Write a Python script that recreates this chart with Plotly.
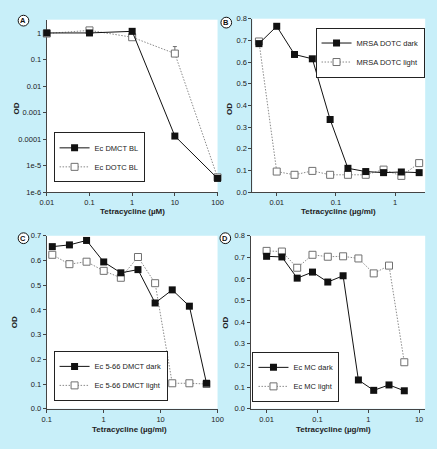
import plotly.graph_objects as go

# ---------------- data ----------------
a_x = [0.01, 0.1, 1, 10, 100]
a_dark = [1.0, 1.0, 1.15, 1.3e-4, 3.3e-6]
a_light = [0.95, 1.25, 0.69, 0.167, 3.6e-6]
a_light_err = [0, 0, 0, 0.14, 0]

b_x = [0.005, 0.01, 0.02, 0.04, 0.08, 0.16, 0.32, 0.64, 1.28, 2.56]
b_dark = [0.685, 0.765, 0.635, 0.615, 0.335, 0.11, 0.095, 0.09, 0.093, 0.09]
b_light = [0.695, 0.095, 0.08, 0.098, 0.08, 0.08, 0.08, 0.104, 0.075, 0.134]

c_x = [0.125, 0.25, 0.5, 1, 2, 4, 8, 16, 32, 64]
c_dark = [0.656, 0.663, 0.681, 0.594, 0.55, 0.563, 0.428, 0.481, 0.415, 0.103]
c_light = [0.623, 0.585, 0.595, 0.558, 0.53, 0.614, 0.508, 0.103, 0.103, 0.1]

d_x = [0.01, 0.02, 0.04, 0.08, 0.16, 0.32, 0.64, 1.28, 2.56, 5.12]
d_dark = [0.705, 0.702, 0.604, 0.632, 0.586, 0.615, 0.133, 0.085, 0.11, 0.083]
d_light = [0.73, 0.727, 0.652, 0.712, 0.703, 0.705, 0.695, 0.626, 0.662, 0.215]

a_names = ["Ec DMCT BL", "Ec DOTC BL"]
b_names = ["MRSA DOTC dark", "MRSA DOTC light"]
c_names = ["Ec 5-66 DMCT dark", "Ec 5-66 DMCT light"]
d_names = ["Ec MC dark", "Ec MC light"]

a_xticks = [0.01, 0.1, 1, 10, 100]
a_xlabels = ["0.01", "0.1", "1", "10", "100"]
a_yticks = [1e-6, 1e-5, 1e-4, 1e-3, 1e-2, 0.1, 1]
a_ylabels = ["1e-6", "1e-5", "0.0001", "0.001", "0.01", "0.1", "1"]
b_xticks = [0.01, 0.1, 1]
b_xlabels = ["0.01", "0.1", "1"]
c_xticks = [0.1, 1, 10, 100]
c_xlabels = ["0.1", "1", "10", "100"]
d_xticks = [0.01, 0.1, 1, 10]
d_xlabels = ["0.01", "0.1", "1", "10"]

# ---------------- style ----------------
W, H = 437, 449
BG = "#c8eff9"
FONT = "Arial, Liberation Sans, sans-serif"
AX = "#444444"
DARK = "#111111"
LIGHT = "#8a8a8a"

def px_x(v):
    return v / W

def px_y(v):
    return 1 - v / H

fig = go.Figure()

panels = [
    ("x", "y", "legend", a_x, a_dark, a_light, a_names, a_light_err),
    ("x2", "y2", "legend2", b_x, b_dark, b_light, b_names, None),
    ("x3", "y3", "legend3", c_x, c_dark, c_light, c_names, None),
    ("x4", "y4", "legend4", d_x, d_dark, d_light, d_names, None),
]

for xa, ya, lg, xs, dk, lt, names, err in panels:
    light = dict(
        x=xs, y=lt, name=names[1], mode="lines+markers", xaxis=xa, yaxis=ya,
        legend=lg, legendrank=2, cliponaxis=False,
        line=dict(color=LIGHT, width=1, dash="1.5px,1.5px"),
        marker=dict(symbol="square", size=7, color="white",
                    line=dict(color="#707070", width=1)),
    )
    if err is not None:
        light["error_y"] = dict(type="data", array=err, arrayminus=[0] * len(err),
                                symmetric=False, color="#707070", thickness=1, width=2)
    fig.add_trace(go.Scatter(**light))
    fig.add_trace(go.Scatter(
        x=xs, y=dk, name=names[0], mode="lines+markers", xaxis=xa, yaxis=ya,
        legend=lg, legendrank=1, cliponaxis=False,
        line=dict(color=DARK, width=1),
        marker=dict(symbol="square", size=7, color=DARK, line=dict(color=DARK, width=0)),
    ))

common = dict(showline=True, linecolor=AX, linewidth=1, ticks="outside", ticklen=3,
              tickcolor=AX, tickwidth=1, showgrid=False, zeroline=False,
              tickfont=dict(family=FONT, size=7.5, color="#222"), layer="below traces")

# panel pixel boxes (left, right, top, bottom)
boxA = (41, 217, 16, 192)
boxB = (253, 431, 15, 192)
boxC = (41, 217, 236.5, 413)
boxD = (251, 431, 236.5, 413)

def dom(box):
    l, r, t, b = box
    return [px_x(l), px_x(r)], [px_y(b), px_y(t)]

xd, yd = dom(boxA)
fig.update_layout(
    xaxis=dict(domain=xd, anchor="y", type="log", range=[-2, 2],
               tickvals=a_xticks, ticktext=a_xlabels, **common),
    yaxis=dict(domain=yd, anchor="x", type="log", range=[-6, 0.5],
               tickvals=a_yticks, ticktext=a_ylabels, **common),
)
xd, yd = dom(boxB)
fig.update_layout(
    xaxis2=dict(domain=xd, anchor="y2", type="log", range=[-2.41, 0.51],
                tickvals=b_xticks, ticktext=b_xlabels, **common),
    yaxis2=dict(domain=yd, anchor="x2", range=[0, 0.8], tick0=0, dtick=0.1,
                tickformat=".1f", **common),
)
xd, yd = dom(boxC)
fig.update_layout(
    xaxis3=dict(domain=xd, anchor="y3", type="log", range=[-1, 2],
                tickvals=c_xticks, ticktext=c_xlabels, **common),
    yaxis3=dict(domain=yd, anchor="x3", range=[0, 0.7], tick0=0, dtick=0.1,
                tickformat=".1f", **common),
)
xd, yd = dom(boxD)
fig.update_layout(
    xaxis4=dict(domain=xd, anchor="y4", type="log", range=[-2.316, 1.12],
                tickvals=d_xticks, ticktext=d_xlabels, **common),
    yaxis4=dict(domain=yd, anchor="x4", range=[0, 0.8], tick0=0, dtick=0.1,
                tickformat=".1f", **common),
)

def legend_at(left, ypos, anchor):
    return dict(x=px_x(left), y=px_y(ypos), xanchor="left", yanchor=anchor,
                bgcolor="white", bordercolor="#222", borderwidth=1,
                font=dict(family=FONT, size=7.5, color="#222"),
                itemwidth=30, tracegroupgap=0, traceorder="normal")

fig.update_layout(
    legend=legend_at(48, 182, "bottom"),
    legend2=legend_at(318, 24, "top"),
    legend3=legend_at(48, 405, "bottom"),
    legend4=legend_at(253, 406, "bottom"),
)

annotations = []
shapes = []
# axis titles
for cx, cy, txt in [(129, 212, "Tetracycline (µM)"), (342, 212, "Tetracycline (µg/ml)"),
                    (126, 434, "Tetracycline (µg/ml)"), (337, 434, "Tetracycline (µg/ml)")]:
    annotations.append(dict(x=px_x(cx), y=px_y(cy), xref="paper", yref="paper",
                            text="<b>%s</b>" % txt, showarrow=False,
                            font=dict(family=FONT, size=8, color="#222"),
                            xanchor="center", yanchor="middle", borderpad=0))
for cx, cy in [(10, 107), (230, 107), (8, 325), (225, 325)]:
    annotations.append(dict(x=px_x(cx), y=px_y(cy), xref="paper", yref="paper",
                            text="<b>OD</b>", showarrow=False, textangle=-90,
                            font=dict(family=FONT, size=8, color="#222"),
                            xanchor="center", yanchor="middle"))
# panel letters
for cx, cy, letter in [(17, 17, "A"), (226, 19, "B"), (17, 239, "C"), (225, 239, "D")]:
    r = 5.5
    shapes.append(dict(type="circle", xref="paper", yref="paper",
                       x0=px_x(cx - r), x1=px_x(cx + r), y0=px_y(cy + r), y1=px_y(cy - r),
                       line=dict(color="#111", width=1), fillcolor="white"))
    annotations.append(dict(x=px_x(cx), y=px_y(cy), xref="paper", yref="paper",
                            text="<b>%s</b>" % letter, showarrow=False,
                            font=dict(family=FONT, size=7.5, color="#111"),
                            xanchor="center", yanchor="middle"))

fig.update_layout(
    width=W, height=H, autosize=False,
    margin=dict(l=0, r=0, t=0, b=0),
    paper_bgcolor=BG, plot_bgcolor="white",
    showlegend=True,
    annotations=annotations, shapes=shapes,
    font=dict(family=FONT, color="#222"),
)

fig.write_html(
    "out.html",
    config={"displayModeBar": False},
    post_script="document.body.style.margin='0';document.body.style.padding='0';"
                "document.body.style.background='%s';" % BG,
)
